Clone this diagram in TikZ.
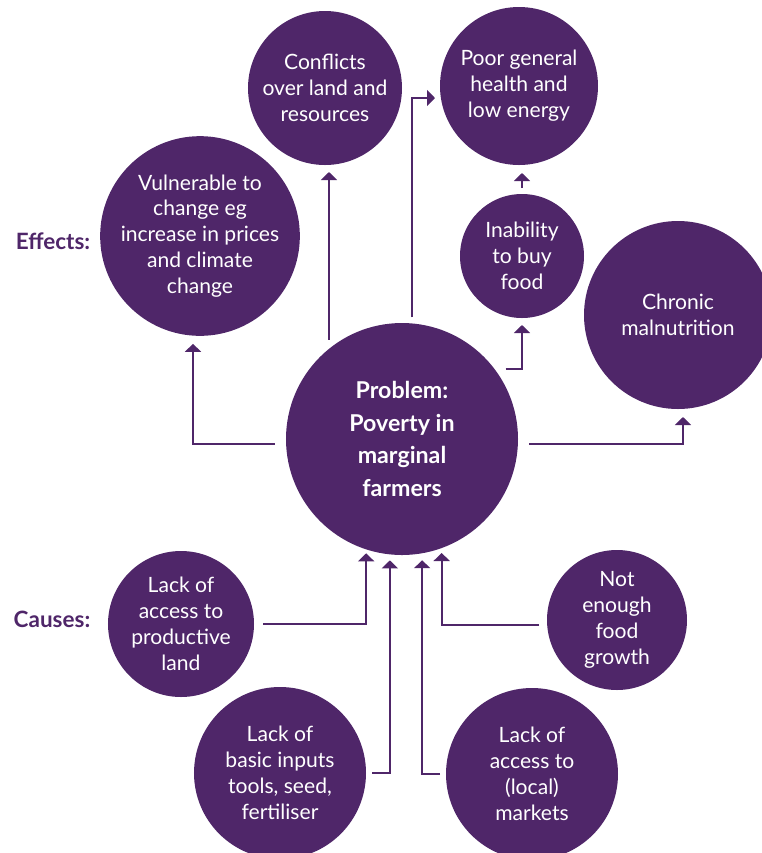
\documentclass[tikz,border=0pt]{standalone}
\usepackage{fontspec}
\setmainfont{Lato}
\usetikzlibrary{arrows.meta}
\definecolor{farmpurple}{RGB}{79,38,105}

\begin{document}
\begin{tikzpicture}[x=0.25mm, y=-0.25mm,
    bubble/.style={circle, fill=farmpurple, text=white, align=center,
        inner sep=0pt, outer sep=0pt, font=\fontsize{15}{18.4}\selectfont},
    link/.style={draw=farmpurple, line width=0.5mm, -{Triangle[width=4mm,length=2mm]}},
    heading/.style={text=farmpurple, font=\fontsize{16}{19}\selectfont\bfseries}]
    \clip (0,0) rectangle (762,853);

    % CENTRE: the problem
    \node[bubble, minimum size=58mm, font=\fontsize{16.5}{23.4}\selectfont\bfseries]
        (problem) at (402,439) {Problem:\\Poverty in\\marginal\\farmers};

    % TOP: Effects
    \node[heading] (effects) at (53,241) {Effects:};
    \node[bubble, minimum size=48mm] (vuln) at (200,236)
        {Vulnerable to\\change eg\\increase in prices\\and climate\\change};
    \node[bubble, minimum size=38.5mm] (conflict) at (325,88)
        {Conflicts\\over land and\\resources};
    \node[bubble, minimum size=39.5mm] (health) at (519,86)
        {Poor general\\health and\\low energy};
    \node[bubble, minimum size=31mm] (inability) at (522,256)
        {Inability\\to buy\\food};
    \node[bubble, minimum size=47mm] (chronic) at (678,315)
        {Chronic\\malnutrition};

    % BOTTOM: Causes
    \node[heading] (causes) at (52,619) {Causes:};
    \node[bubble, minimum size=36.5mm] (landacc) at (181,624)
        {Lack of\\access to\\productive\\land};
    \node[bubble, minimum size=43mm] (inputs) at (280,773)
        {Lack of\\basic inputs\\tools, seed,\\fertiliser};
    \node[bubble, minimum size=43mm] (markets) at (532,774)
        {Lack of\\access to\\(local)\\markets};
    \node[bubble, minimum size=35mm] (foodgrowth) at (617,620)
        {Not\\enough\\food\\growth};

    % problem -> effects
    \draw[link, shorten <=2.75mm, shorten >=2mm] ([yshift=-1.25mm]problem.west) -| ([xshift=-1.75mm]vuln.south);
    \draw[link, shorten <=2.25mm, shorten >=1.75mm] (problem.129) -- (problem.129 |- conflict.south);
    \draw[link, shorten <=1.5mm, shorten >=1.25mm] (problem.85) |- ([yshift=-3mm]health.west);
    \draw[link, shorten <=2.75mm, shorten >=1.75mm] (problem.37) -| (inability.south);
    \draw[link, shorten <=1.5mm, shorten >=2mm] (inability.north) -- (inability.north |- health.south);
    \draw[link, shorten <=2.75mm, shorten >=2mm] ([yshift=-1.25mm]problem.east) -| ([xshift=1.25mm]chronic.south);

    % causes -> problem
    \draw[link, shorten <=2.25mm, shorten >=1mm] (landacc.east) -| (problem.252);
    \draw[link, shorten <=1.5mm, shorten >=1.5mm] (inputs.east) -| (problem.264);
    \draw[link, shorten <=1.5mm, shorten >=1.75mm] (markets.west) -| (problem.280);
    \draw[link, shorten <=2mm, shorten >=1.25mm] ([yshift=-1.25mm]foodgrowth.west) -| (problem.290);
\end{tikzpicture}
\end{document}
